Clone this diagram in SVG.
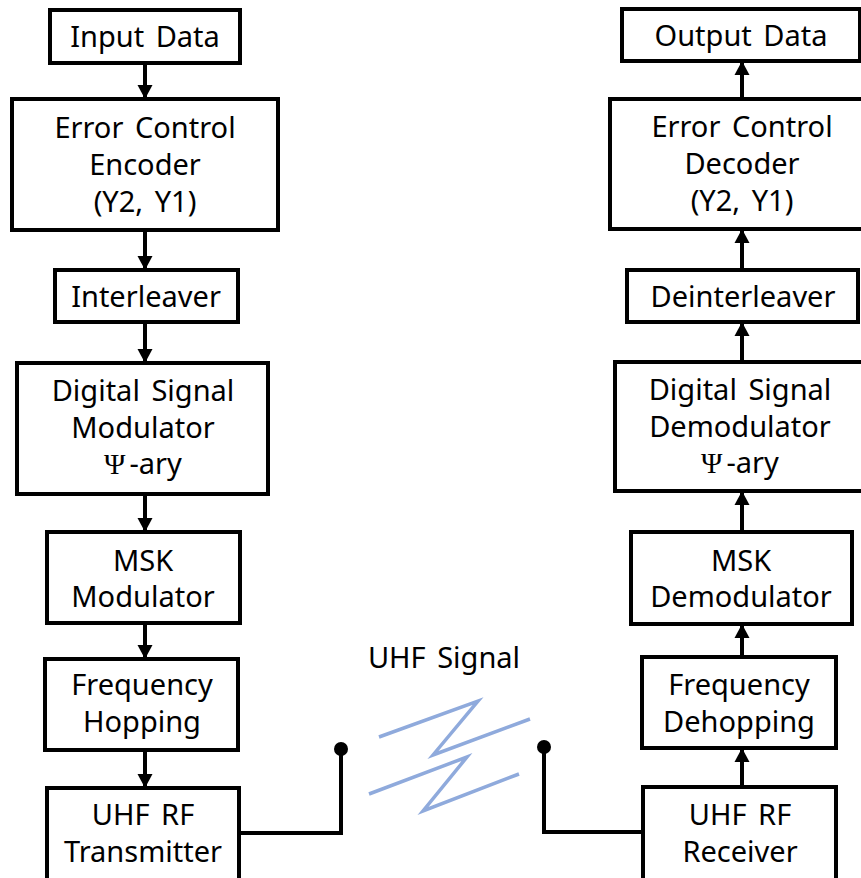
<svg xmlns="http://www.w3.org/2000/svg" width="861" height="878" viewBox="0 0 861 878">
<defs>
<style>
.box{fill:#fff;stroke:#000;stroke-width:4}
.t{font-family:"Noto Sans","DejaVu Sans",sans-serif;font-size:29px;word-spacing:4px;fill:#000;text-anchor:middle}
.psi{font-family:"Liberation Serif","DejaVu Serif",serif}
.c{stroke:#000;stroke-width:4;fill:none}
.w{stroke:#8FAADC;stroke-width:3.5;fill:none;stroke-linejoin:miter}
</style>
<marker id="ah" markerUnits="userSpaceOnUse" markerWidth="16" markerHeight="16" refX="13" refY="8" orient="auto">
<path d="M0,0.5 L14,8 L0,15.5 Z" fill="#000"/>
</marker>
</defs>
<rect width="861" height="878" fill="#fff"/>

<g id="connectors">
<line class="c" x1="145" y1="63" x2="145" y2="98" marker-end="url(#ah)"/>
<line class="c" x1="145" y1="230" x2="145" y2="269" marker-end="url(#ah)"/>
<line class="c" x1="145" y1="322" x2="145" y2="362" marker-end="url(#ah)"/>
<line class="c" x1="145" y1="494" x2="145" y2="531" marker-end="url(#ah)"/>
<line class="c" x1="145" y1="623" x2="145" y2="658" marker-end="url(#ah)"/>
<line class="c" x1="145" y1="750" x2="145" y2="787" marker-end="url(#ah)"/>
<line class="c" x1="742" y1="99" x2="742" y2="62" marker-end="url(#ah)"/>
<line class="c" x1="742" y1="270" x2="742" y2="230" marker-end="url(#ah)"/>
<line class="c" x1="742" y1="362" x2="742" y2="323" marker-end="url(#ah)"/>
<line class="c" x1="742" y1="532" x2="742" y2="492" marker-end="url(#ah)"/>
<line class="c" x1="742" y1="657" x2="742" y2="625" marker-end="url(#ah)"/>
<line class="c" x1="742" y1="787" x2="742" y2="749" marker-end="url(#ah)"/>
<path class="c" d="M239,833 H341 V749"/>
<circle cx="341" cy="749" r="7" fill="#000"/>
<path class="c" d="M643,832 H544 V747"/>
<circle cx="544" cy="747" r="7" fill="#000"/>
</g>

<g id="uhf-signal">
<text class="t" x="444" y="668">UHF Signal</text>
<polyline class="w" points="379,737 478,701 433,755 530,719"/>
<polyline class="w" points="369,794 467,757 423,811 519,774"/>
</g>

<g id="input-data">
<rect class="box" x="50" y="10" width="190" height="53"/>
<text class="t" x="145" y="47">Input Data</text>
</g>
<g id="encoder">
<rect class="box" x="12" y="99" width="266" height="131"/>
<text class="t" x="145" y="138">Error Control</text>
<text class="t" x="145" y="175">Encoder</text>
<text class="t" x="145" y="212">(Y2, Y1)</text>
</g>
<g id="interleaver">
<rect class="box" x="55" y="270" width="183" height="52"/>
<text class="t" x="146" y="307">Interleaver</text>
</g>
<g id="modulator">
<rect class="box" x="17" y="363" width="251" height="131"/>
<text class="t" x="143" y="401">Digital Signal</text>
<text class="t" x="143" y="438">Modulator</text>
<text class="t" x="143" y="474"><tspan class="psi">Ψ</tspan><tspan dx="4">-ary</tspan></text>
</g>
<g id="msk-modulator">
<rect class="box" x="47" y="532" width="193" height="91"/>
<text class="t" x="143" y="571">MSK</text>
<text class="t" x="143" y="607">Modulator</text>
</g>
<g id="freq-hopping">
<rect class="box" x="45" y="659" width="193" height="91"/>
<text class="t" x="142" y="695">Frequency</text>
<text class="t" x="142" y="732">Hopping</text>
</g>
<g id="transmitter">
<rect class="box" x="47" y="788" width="192" height="110"/>
<text class="t" x="143" y="825">UHF RF</text>
<text class="t" x="143" y="862">Transmitter</text>
</g>

<g id="output-data">
<rect class="box" x="622" y="9" width="238" height="52"/>
<text class="t" x="741" y="46">Output Data</text>
</g>
<g id="decoder">
<rect class="box" x="610" y="99" width="264" height="130"/>
<text class="t" x="742" y="137">Error Control</text>
<text class="t" x="742" y="174">Decoder</text>
<text class="t" x="742" y="211">(Y2, Y1)</text>
</g>
<g id="deinterleaver">
<rect class="box" x="627" y="270" width="231" height="52"/>
<text class="t" x="743" y="307">Deinterleaver</text>
</g>
<g id="demodulator">
<rect class="box" x="615" y="362" width="259" height="129"/>
<text class="t" x="740" y="400">Digital Signal</text>
<text class="t" x="740" y="437">Demodulator</text>
<text class="t" x="740" y="473"><tspan class="psi">Ψ</tspan><tspan dx="4">-ary</tspan></text>
</g>
<g id="msk-demodulator">
<rect class="box" x="631" y="532" width="221" height="92"/>
<text class="t" x="741" y="571">MSK</text>
<text class="t" x="741" y="607">Demodulator</text>
</g>
<g id="freq-dehopping">
<rect class="box" x="642" y="657" width="194" height="91"/>
<text class="t" x="739" y="695">Frequency</text>
<text class="t" x="739" y="732">Dehopping</text>
</g>
<g id="receiver">
<rect class="box" x="643" y="787" width="193" height="110"/>
<text class="t" x="740" y="825">UHF RF</text>
<text class="t" x="740" y="862">Receiver</text>
</g>
</svg>
